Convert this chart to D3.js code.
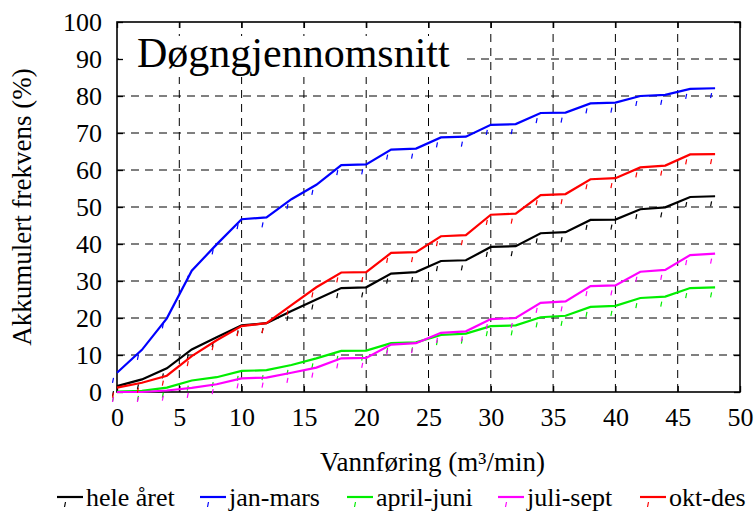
<!DOCTYPE html>
<html>
<head>
<meta charset="utf-8">
<script src="https://cdn.jsdelivr.net/npm/d3@7"></script>
<style>
  body { margin: 0; background: #fff; }
  svg text { font-family: "Liberation Serif", "Times New Roman", "DejaVu Serif", serif; fill: #000; }
</style>
</head>
<body>
<div id="chart"></div>
<script>
// x values (m3/min)
var flow = [0, 2, 4, 6, 8, 10, 12, 14, 16, 18, 20, 22, 24, 26, 28, 30, 32, 34, 36, 38, 40, 42, 44, 46, 48];

// accumulated frequency (%) per season
var heleAret = [1.6, 3.4, 6.4, 11.5, 14.8, 18.0, 18.6, 21.9, 25.0, 28.1, 28.3, 32.0, 32.4, 35.4, 35.6, 39.2, 39.4, 42.9, 43.2, 46.5, 46.6, 49.4, 49.9, 52.7, 52.9];
var janMars = [5.2, 11.4, 19.9, 32.8, 39.9, 46.7, 47.2, 52.1, 56.0, 61.3, 61.5, 65.5, 65.8, 68.8, 69.0, 72.2, 72.4, 75.4, 75.5, 78.0, 78.2, 80.0, 80.3, 81.9, 82.1];
var aprilJuni = [0.1, 0.3, 1.2, 3.1, 4.0, 5.7, 5.9, 7.3, 9.1, 11.1, 11.2, 13.2, 13.4, 15.4, 15.8, 17.8, 18.0, 20.2, 20.6, 23.0, 23.3, 25.4, 25.8, 28.1, 28.3];
var juliSept = [0, 0, 0.4, 1.1, 2.1, 3.7, 3.9, 5.2, 6.6, 9.1, 9.2, 12.8, 13.2, 16.0, 16.4, 19.7, 20.0, 24.1, 24.5, 28.6, 28.8, 32.5, 33.0, 37.0, 37.4];
var oktDes = [1.2, 2.5, 4.4, 9.7, 14.0, 17.8, 18.6, 23.5, 28.3, 32.3, 32.4, 37.6, 37.8, 42.1, 42.4, 47.9, 48.2, 53.2, 53.5, 57.5, 57.8, 60.7, 61.2, 64.2, 64.3];

var seriesNames = ["hele året", "jan-mars", "april-juni", "juli-sept", "okt-des"];
var seriesColors = ["#000000", "#0000ff", "#00ee00", "#ff00ff", "#ff0000"];
var seriesValues = [heleAret, janMars, aprilJuni, juliSept, oktDes];

var xTicks = [0, 5, 10, 15, 20, 25, 30, 35, 40, 45, 50];
var yTicks = [0, 10, 20, 30, 40, 50, 60, 70, 80, 90, 100];

var serif = "'Liberation Serif', 'Times New Roman', 'DejaVu Serif', serif"

var width = 755
var height = 515
var margin = { left: 117, right: 15, top: 22, bottom: 123 }

var svg = d3.select("#chart")
  .append("svg")
    .attr("width", width)
    .attr("height", height)
    .attr("font-family", serif)

var x = d3.scaleLinear()
  .domain([0, 50])
  .range([margin.left, width - margin.right])

var y = d3.scaleLinear()
  .domain([0, 100])
  .range([height - margin.bottom, margin.top])

// dashed grid
svg.append("g")
  .selectAll("line")
  .data(xTicks.slice(1, -1))
  .enter()
  .append("line")
    .attr("x1", function(d){ return x(d) })
    .attr("x2", function(d){ return x(d) })
    .attr("y1", y(0))
    .attr("y2", y(100))
    .attr("stroke", "#000")
    .attr("stroke-width", 1)
    .attr("stroke-dasharray", "8,6")

svg.append("g")
  .selectAll("line")
  .data(yTicks.slice(1, -1))
  .enter()
  .append("line")
    .attr("x1", x(0))
    .attr("x2", x(50))
    .attr("y1", function(d){ return y(d) })
    .attr("y2", function(d){ return y(d) })
    .attr("stroke", "#000")
    .attr("stroke-width", 1)
    .attr("stroke-dasharray", "8,6")

// title with white box behind it
svg.append("rect")
  .attr("x", x(0) + 2)
  .attr("y", 36)
  .attr("width", 343)
  .attr("height", 41)
  .attr("fill", "#fff")

svg.append("text")
  .attr("x", 137)
  .attr("y", 67)
  .style("font-size", "42px")
  .text("Døgngjennomsnitt")

// axes, ticks pointing inwards
var yAxis = d3.axisLeft(y).tickValues(yTicks).tickSize(-6).tickPadding(15)
var xAxis = d3.axisBottom(x).tickValues(xTicks).tickSize(-6).tickPadding(16)

var gy = svg.append("g")
  .attr("transform", "translate(" + x(0) + ",0)")
  .call(yAxis)
var gx = svg.append("g")
  .attr("transform", "translate(0," + y(0) + ")")
  .call(xAxis)

svg.append("g")
  .attr("transform", "translate(" + x(50) + ",0)")
  .call(d3.axisRight(y).tickValues(yTicks).tickSize(-6).tickFormat(""))
svg.append("g")
  .attr("transform", "translate(0," + y(100) + ")")
  .call(d3.axisTop(x).tickValues(xTicks).tickSize(-6).tickFormat(""))

svg.selectAll(".domain").remove()
svg.selectAll("g").attr("font-family", null).attr("font-size", null)
svg.selectAll(".tick line").attr("stroke", "#000").attr("stroke-width", 1.3)
gy.selectAll("text").style("font-size", "26px").attr("dy", "0.34em")
gx.selectAll("text").style("font-size", "26px")

// frame
svg.append("rect")
  .attr("x", x(0))
  .attr("y", y(100))
  .attr("width", x(50) - x(0))
  .attr("height", y(0) - y(100))
  .attr("fill", "none")
  .attr("stroke", "#000")
  .attr("stroke-width", 1.6)

// series lines
var line = d3.line()
  .x(function(d){ return x(d[0]) })
  .y(function(d){ return y(d[1]) })

seriesValues.forEach(function(vals, i) {
  var pts = flow.map(function(f, j){ return [f, vals[j]] })

  // small tick markers just below each point
  svg.append("g")
    .selectAll("line")
    .data(pts)
    .enter()
    .append("line")
      .attr("x1", function(d){ return x(d[0]) - 4.5 })
      .attr("y1", function(d){ return y(d[1]) + 10 })
      .attr("x2", function(d){ return x(d[0]) - 3.5 })
      .attr("y2", function(d){ return y(d[1]) + 5 })
      .attr("stroke", seriesColors[i])
      .attr("stroke-width", 1.2)

  svg.append("path")
    .datum(pts)
    .attr("d", line)
    .attr("fill", "none")
    .attr("stroke", seriesColors[i])
    .attr("stroke-width", 2.2)
})

// axis titles
svg.append("text")
  .attr("transform", "translate(31," + ((y(0) + y(100)) / 2) + ") rotate(-90)")
  .attr("text-anchor", "middle")
  .style("font-size", "27px")
  .text("Akkumulert frekvens (%)")

svg.append("text")
  .attr("x", (x(0) + x(50)) / 2 + 4)
  .attr("y", 471)
  .attr("text-anchor", "middle")
  .style("font-size", "27px")
  .text("Vannføring (m³/min)")

// legend
var legendX = [57, 200, 347, 498, 640]
var legend = svg.append("g")
  .selectAll("g")
  .data(seriesNames)
  .enter()
  .append("g")
    .attr("transform", function(d, i){ return "translate(" + legendX[i] + ",497)" })

legend.append("line")
  .attr("x1", 0).attr("x2", 26).attr("y1", 0).attr("y2", 0)
  .attr("stroke", function(d, i){ return seriesColors[i] })
  .attr("stroke-width", 2.2)
legend.append("line")
  .attr("x1", 7.5).attr("x2", 8.5).attr("y1", 10).attr("y2", 5)
  .attr("stroke", function(d, i){ return seriesColors[i] })
  .attr("stroke-width", 1.2)
legend.append("text")
  .attr("x", 29)
  .attr("y", 9)
  .style("font-size", "26px")
  .text(function(d){ return d })
</script>
</body>
</html>
